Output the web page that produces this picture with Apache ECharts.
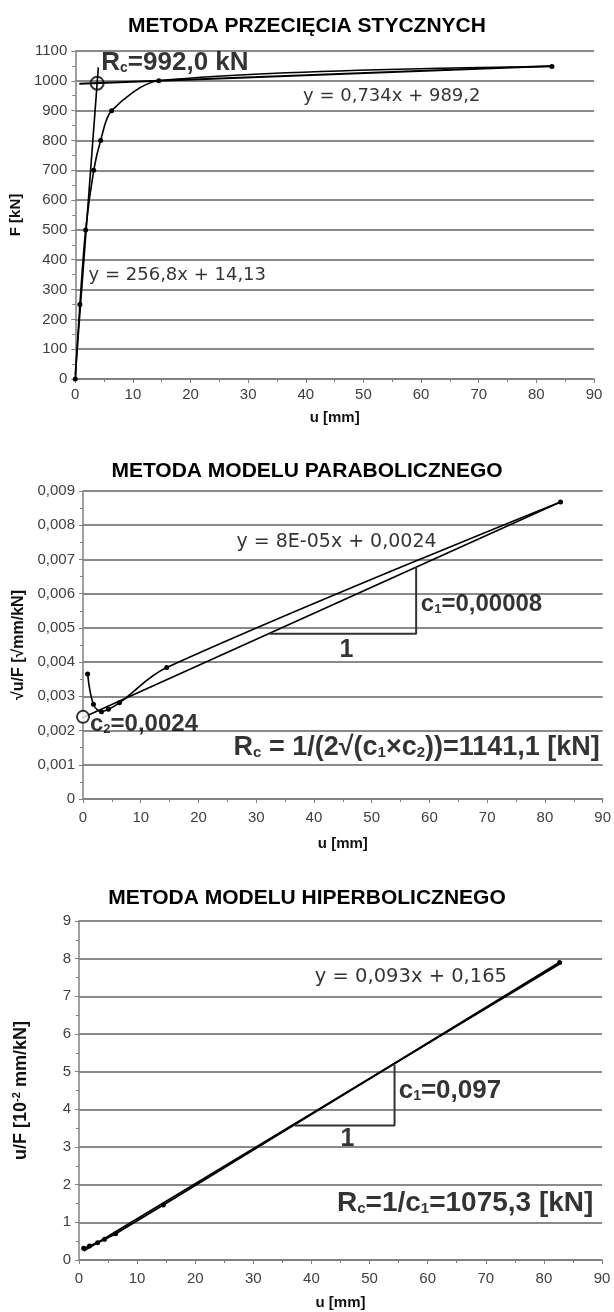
<!DOCTYPE html>
<html>
<head>
<meta charset="utf-8">
<script src="https://cdn.jsdelivr.net/npm/echarts@6/dist/echarts.min.js"></script>
<style>
html,body{margin:0;padding:0;background:#fff;}
#c{width:614px;height:1312px;}
</style>
</head>
<body>
<div id="c"></div>
<script>
// ---------- DATA ----------
// Chart 1: METODA PRZECIĘCIA STYCZNYCH
const u1 = [0, 0.8, 1.8, 3.2, 4.4, 6.3, 14.5, 82.7];
const F1 = [0, 250, 500, 700, 800, 900, 1000, 1048];
const steepU = [0, 4.0];
const steepF = [14, 1045];
const flatU = [0.7, 82.7];
const flatF = [990, 1050];
const rc1U = [3.8];
const rc1F = [992];

// Chart 2: METODA MODELU PARABOLICZNEGO
const u2 = [0.8, 1.8, 3.2, 4.4, 6.3, 14.5, 82.7];
const s2 = [0.00365, 0.00277, 0.00255, 0.00262, 0.00281, 0.00384, 0.00868];
const trend2U = [0, 82.7];
const trend2V = [0.00238, 0.00868];
const tri2U = [32.3, 57.7, 57.7];
const tri2V = [0.00483, 0.00483, 0.00678];
const c2U = [0];
const c2V = [0.0024];

// Chart 3: METODA MODELU HIPERBOLICZNEGO
const u3 = [0.8, 1.8, 3.2, 4.4, 6.3, 14.5, 82.7];
const h3 = [0.31, 0.37, 0.46, 0.55, 0.70, 1.46, 7.90];
const trend3U = [0.8, 82.7];
const trend3V = [0.24, 7.86];
const tri3U = [37.1, 54.3, 54.3];
const tri3V = [3.57, 3.57, 5.18];

// Tick labels
const xTicks = ['0','10','20','30','40','50','60','70','80','90'];
const yTicks1 = ['0','100','200','300','400','500','600','700','800','900','1000','1100'];
const yTicks2 = ['0','0,001','0,002','0,003','0,004','0,005','0,006','0,007','0,008','0,009'];
const yTicks3 = ['0','1','2','3','4','5','6','7','8','9'];

const titles = ['METODA PRZECIĘCIA STYCZNYCH','METODA MODELU PARABOLICZNEGO','METODA MODELU HIPERBOLICZNEGO'];

// ---------- HELPERS ----------
const zip = (a, b) => a.map((v, i) => [v, b[i]]);
const TICK_FONT = 'Liberation Sans';
const EQ_FONT = 'DejaVu Sans';
const BOLD_FONT = 'Liberation Sans';
const subRich = (size, family, weight) => ({
  sub: {fontSize: Math.round(size*0.55), fontFamily: family, fontWeight: weight, color: '#000', padding: [Math.round(size*0.42),0,0,0]}
});

function xAxisFor(gi, margin, nameGap) {
  return {
    gridIndex: gi, type: 'value', min: 0, max: 90, interval: 10,
    name: 'u [mm]', nameLocation: 'middle', nameGap: nameGap,
    nameTextStyle: {fontFamily: 'Liberation Sans', fontWeight: 'bold', fontSize: 15, color: '#111'},
    axisLine: {show: true, onZero: false, lineStyle: {color: '#808080', width: 1.5}},
    axisTick: {show: true, length: 4, lineStyle: {color: '#808080'}},
    minorTick: {show: true, splitNumber: 2, length: 3, lineStyle: {color: '#808080'}},
    splitLine: {show: false},
    axisLabel: {fontFamily: TICK_FONT, fontSize: 15, color: '#404040', margin: margin,
      formatter: v => xTicks[Math.round(v / 10)]}
  };
}
function yAxisFor(gi, max, interval, labels, name, nameGap, nameSize, rich) {
  return {
    gridIndex: gi, type: 'value', min: 0, max: max, interval: interval,
    name: name, nameLocation: 'middle', nameGap: nameGap, nameRotate: 90,
    nameTextStyle: {fontFamily: 'Liberation Sans', fontWeight: 'bold', fontSize: nameSize, color: '#111', rich: rich || {}},
    axisLine: {show: true, onZero: false, lineStyle: {color: '#808080', width: 1.5}},
    axisTick: {show: true, length: 4, lineStyle: {color: '#808080'}},
    minorTick: {show: true, splitNumber: 2, length: 3, lineStyle: {color: '#808080'}},
    splitLine: {show: true, lineStyle: {color: '#8a8a8a', width: 2}},
    axisLabel: {fontFamily: TICK_FONT, fontSize: 15, color: '#404040', margin: 8,
      formatter: v => labels[Math.round(v / interval)]}
  };
}
function ann(gi, x, y, text, opts) {
  const size = opts.size || 18;
  const family = opts.bold ? BOLD_FONT : EQ_FONT;
  const weight = opts.bold ? 'bold' : 'normal';
  return {
    type: 'scatter', xAxisIndex: gi, yAxisIndex: gi, silent: true, z: 20,
    symbolSize: 1, itemStyle: {color: 'transparent'},
    data: [[x, y]],
    label: {
      show: true, position: [0, 0],
      align: opts.align || 'left', verticalAlign: 'middle',
      formatter: text,
      fontFamily: family, fontWeight: weight,
      fontSize: size, color: '#000',
      rich: subRich(size, family, weight)
    }
  };
}
function lineS(gi, data, opts) {
  return Object.assign({
    type: 'line', xAxisIndex: gi, yAxisIndex: gi, data: data,
    showSymbol: false, symbol: 'none', silent: true,
    lineStyle: {color: '#000', width: 1.6}, z: 5
  }, opts || {});
}

const option = {
  animation: false,
  backgroundColor: '#fff',
  title: [
    {text: titles[0], left: 'center', top: 11},
    {text: titles[1], left: 'center', top: 456},
    {text: titles[2], left: 'center', top: 883}
  ].map(t => Object.assign(t, {textStyle: {fontFamily: 'Liberation Sans', fontWeight: 'bold', fontSize: 21, color: '#000'}})),
  grid: [
    {left: 72, right: 20, top: 51, height: 328},
    {left: 83, right: 8, top: 491, height: 308},
    {left: 79, right: 12, top: 921, height: 339}
  ],
  xAxis: [xAxisFor(0, 8, 31), xAxisFor(1, 11, 37), xAxisFor(2, 11, 35)],
  yAxis: [
    yAxisFor(0, 1100, 100, yTicks1, 'F [kN]', 41, 15),
    yAxisFor(1, 0.009, 0.001, yTicks2, '√u/F [√mm/kN]', 52, 16),
    yAxisFor(2, 9, 1, yTicks3, 'u/F [10{sup|-2} mm/kN]', 48, 18,
      {sup: {fontFamily: 'Liberation Sans', fontWeight: 'bold', fontSize: 11, color: '#111', padding: [0,0,9,0]}})
  ],
  series: [
    // chart 1
    lineS(0, zip(u1, F1), {smooth: 0.3, showSymbol: true, symbol: 'circle', symbolSize: 5, itemStyle: {color: '#000'}}),
    lineS(0, zip(steepU, steepF)),
    lineS(0, zip(flatU, flatF), {lineStyle: {color: '#000', width: 2}}),
    {type: 'scatter', xAxisIndex: 0, yAxisIndex: 0, data: zip(rc1U, rc1F), symbol: 'circle', symbolSize: 13, silent: true, z: 10,
      itemStyle: {color: 'rgba(0,0,0,0)', borderColor: '#000', borderWidth: 2}},
    ann(0, 55, 946, 'y = 0,734x + 989,2', {align: 'center', size: 18}),
    ann(0, 2.4, 346, 'y = 256,8x + 14,13', {align: 'left', size: 18}),
    ann(0, 4.6, 1058, 'R{sub|c}=992,0 kN', {align: 'left', size: 26, bold: true}),

    // chart 2
    lineS(1, zip(u2, s2), {smooth: 0.35, showSymbol: true, symbol: 'circle', symbolSize: 5, itemStyle: {color: '#000'}}),
    lineS(1, zip(trend2U, trend2V)),
    lineS(1, zip(tri2U, tri2V), {lineStyle: {color: '#333', width: 2}}),
    {type: 'scatter', xAxisIndex: 1, yAxisIndex: 1, data: zip(c2U, c2V), symbol: 'circle', symbolSize: 12, silent: true, z: 10,
      itemStyle: {color: '#fff', borderColor: '#000', borderWidth: 2}},
    ann(1, 44, 0.00748, 'y = 8E-05x + 0,0024', {align: 'center', size: 19}),
    ann(1, 58.6, 0.00566, 'c{sub|1}=0,00008', {align: 'left', size: 24, bold: true}),
    ann(1, 45.7, 0.00435, '1', {align: 'center', size: 25, bold: true}),
    ann(1, 1.3, 0.00216, 'c{sub|2}=0,0024', {align: 'left', size: 24, bold: true}),
    ann(1, 89.6, 0.00148, 'R{sub|c} = 1/(2√(c{sub|1}×c{sub|2}))=1141,1 [kN]', {align: 'right', size: 27, bold: true}),

    // chart 3
    lineS(2, zip(u3, h3), {showSymbol: true, symbol: 'circle', symbolSize: 5, itemStyle: {color: '#000'}, lineStyle: {color: '#000', width: 2}}),
    lineS(2, zip(trend3U, trend3V)),
    lineS(2, zip(tri3U, tri3V), {lineStyle: {color: '#333', width: 2}}),
    ann(2, 57.2, 7.5, 'y = 0,093x + 0,165', {align: 'center', size: 19.5}),
    ann(2, 55.1, 4.47, 'c{sub|1}=0,097', {align: 'left', size: 26, bold: true}),
    ann(2, 46.3, 3.19, '1', {align: 'center', size: 25, bold: true}),
    ann(2, 88.6, 1.5, 'R{sub|c}=1/c{sub|1}=1075,3 [kN]', {align: 'right', size: 28, bold: true})
  ]
};

const chart = echarts.init(document.getElementById('c'), null, {renderer: 'canvas'});
chart.setOption(option);
</script>
</body>
</html>
